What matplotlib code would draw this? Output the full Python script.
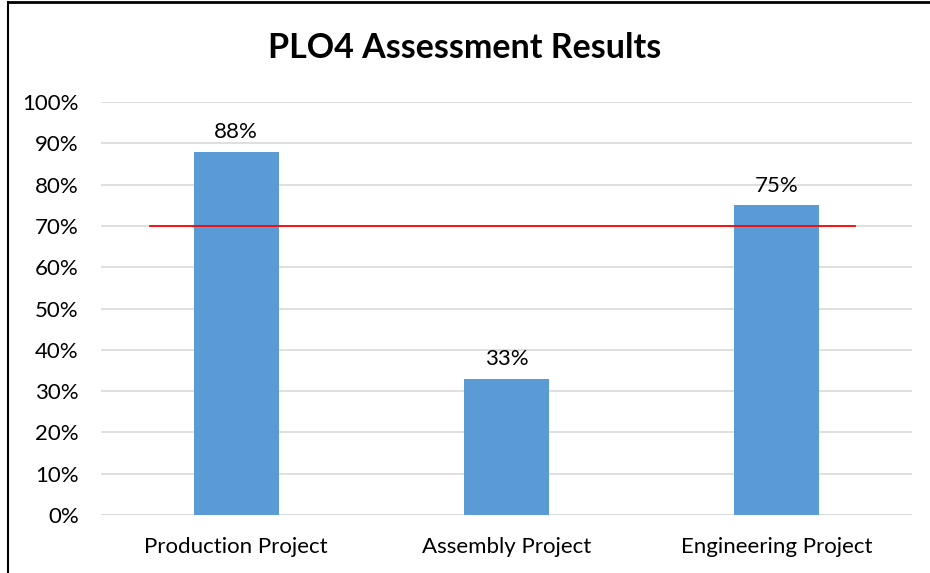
import matplotlib
matplotlib.use("Agg")
import matplotlib.pyplot as plt
from matplotlib.lines import Line2D

categories = ["Production Project", "Assembly Project", "Engineering Project"]
scores = [0.88, 0.33, 0.75]
target = 0.70
yticks = [0.0, 0.1, 0.2, 0.3, 0.4, 0.5, 0.6, 0.7, 0.8, 0.9, 1.0]

plt.rcParams['font.family'] = ['Lato', 'DejaVu Sans']

fig = plt.figure(figsize=(9.3, 5.73), dpi=100)
ax = fig.add_axes([0.1086, 0.1012, 0.872, 0.7208])

x = range(len(categories))
bars = ax.bar(x, scores, width=0.315, color='#5B9BD5', zorder=3)

for b, v in zip(bars, scores):
    ax.annotate(f"{v:.0%}", (b.get_x() + b.get_width() / 2, v),
                xytext=(0, 7), textcoords='offset points',
                ha='center', va='bottom', fontsize=16, color='#000000')

# target line
ax.plot([-0.32, 2.29], [target, target], color='#FF0000', linewidth=1.3, zorder=4)

ax.set_xlim(-0.5, 2.5)
ax.set_ylim(0, 1.0)
ax.set_yticks(yticks)
ax.set_yticklabels([f"{t:.0%}" for t in yticks], fontsize=16)
ax.set_xticks(list(x))
ax.set_xticklabels(categories, fontsize=16)
ax.tick_params(length=0)
ax.tick_params(axis='x', pad=16)
ax.tick_params(axis='y', pad=16)
ax.grid(axis='y', color='#D9D9D9', linewidth=1.2, zorder=0)
for s in ax.spines.values():
    s.set_visible(False)
ax.axhline(0, color='#D9D9D9', linewidth=1.2, zorder=2)

fig.text(0.5, 0.916, "PLO4 Assessment Results", ha='center', va='center',
         fontsize=24.5, fontweight='bold')

# chart border (left and top edges visible)
fig.add_artist(Line2D([8 / 930, 8 / 930], [0, 1 - 2 / 573], transform=fig.transFigure,
                      color='black', linewidth=1.5))
fig.add_artist(Line2D([8 / 930, 1], [1 - 2 / 573, 1 - 2 / 573], transform=fig.transFigure,
                      color='black', linewidth=2))

fig.savefig("out.png", dpi=100)
